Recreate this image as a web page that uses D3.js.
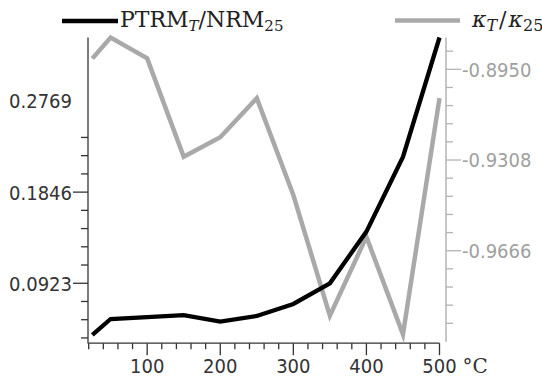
<!DOCTYPE html>
<html>
<head>
<meta charset="utf-8">
<script src="https://cdn.jsdelivr.net/npm/d3@7"></script>
<style>
  body { margin: 0; background: #fff; }
  .tickLabel { font-family: "DejaVu Sans Condensed", "Liberation Sans", sans-serif; font-stretch: condensed; font-size: 20px; }
  .serif { font-family: "DejaVu Serif", "Liberation Serif", serif; }
</style>
</head>
<body>
<div id="chart"></div>
<script>
// temperatures (°C)
const temps = [25, 50, 100, 150, 200, 250, 300, 350, 400, 450, 500];
// PTRM_T / NRM_25 (left axis)
const ptrm = [0.0399, 0.0561, 0.0579, 0.0600, 0.0534, 0.0592, 0.0713, 0.0923, 0.1446, 0.2202, 0.3412];
// kappa_T / kappa_25 (right axis)
const kappa = [-0.8907, -0.8825, -0.8907, -0.9295, -0.9218, -0.9064, -0.9446, -0.9922, -0.9611, -0.9996, -0.9064];

const leftTickStep = 0.01846;
const leftLabels = [0.0923, 0.1846, 0.2769];
const rightTickStep = 0.00716;
const rightLabels = [-0.8950, -0.9308, -0.9666];
const xTicks = d3.range(20, 501, 20);
const xLabels = [100, 200, 300, 400, 500];

const width = 542, height = 378;
const plotTop = 37.5, plotBottom = 341.7;
const black = '#000', grey = '#a9a9a9';

let svg = d3.select('#chart').append('svg')
  .attr('width', width)
  .attr('height', height);

let x = d3.scaleLinear().domain([20, 500]).range([88.7, 439.5]);
let yL = d3.scaleLinear().domain([0.0331, 0.3412]).range([plotBottom, plotTop]);
let yR = d3.scaleLinear().domain([-1.0025, -0.88245]).range([plotBottom, plotTop]);

// tick values built from the label steps
let leftTicks = d3.range(-3, 9).map(k => +(0.0923 + k * leftTickStep).toFixed(5));
let rightTicks = d3.range(-14, 2).map(k => +(-0.8950 + k * rightTickStep).toFixed(5));
let isLabel = (arr, v) => arr.some(a => Math.abs(a - v) < 1e-4);

// left axis
let leftAxis = svg.append('g').attr('transform', 'translate(88,0)');
leftAxis.append('line')
  .attr('y1', plotTop).attr('y2', plotBottom + 1)
  .attr('stroke', '#333').attr('stroke-width', 1.3);
leftAxis.selectAll('.tk').data(leftTicks).enter().append('line')
  .attr('x1', d => isLabel(leftLabels, d) ? -15 : -7).attr('x2', 0)
  .attr('y1', d => yL(d)).attr('y2', d => yL(d))
  .attr('stroke', '#333').attr('stroke-width', 1.3);
leftAxis.selectAll('text').data(leftLabels).enter().append('text')
  .attr('class', 'tickLabel')
  .attr('x', -16).attr('y', d => yL(d)).attr('dy', '0.37em')
  .attr('text-anchor', 'end').attr('fill', '#333')
  .text(d => d.toFixed(4));

// right axis
let rightAxis = svg.append('g').attr('transform', 'translate(446,0)');
rightAxis.append('line')
  .attr('y1', plotTop).attr('y2', plotBottom)
  .attr('stroke', '#b3b3b3').attr('stroke-width', 1.5);
rightAxis.selectAll('.tk').data(rightTicks).enter().append('line')
  .attr('x1', 0).attr('x2', d => isLabel(rightLabels, d) ? 15 : 7)
  .attr('y1', d => yR(d)).attr('y2', d => yR(d))
  .attr('stroke', '#b3b3b3').attr('stroke-width', 1.3);
rightAxis.selectAll('text').data(rightLabels).enter().append('text')
  .attr('class', 'tickLabel')
  .attr('x', 16).attr('y', d => yR(d)).attr('dy', '0.37em')
  .attr('fill', '#a0a0a0')
  .text(d => '-' + Math.abs(d).toFixed(4));

// x axis
let xAxis = svg.append('g').attr('transform', `translate(0,${plotBottom + 1.5})`);
xAxis.append('line')
  .attr('x1', 87.5).attr('x2', x(500))
  .attr('stroke', '#333').attr('stroke-width', 1.3);
xAxis.selectAll('.tk').data(xTicks).enter().append('line')
  .attr('x1', d => x(d)).attr('x2', d => x(d))
  .attr('y1', 0).attr('y2', d => xLabels.includes(d) ? 12 : 6)
  .attr('stroke', '#333').attr('stroke-width', 1.3);
xAxis.selectAll('text').data(xLabels).enter().append('text')
  .attr('class', 'tickLabel')
  .attr('x', d => x(d)).attr('y', 29.5)
  .attr('text-anchor', 'middle').attr('fill', '#333')
  .text(d => d);
xAxis.append('text')
  .attr('class', 'serif')
  .attr('x', x(500) + 23).attr('y', 29.5)
  .attr('font-size', 20).attr('fill', '#333')
  .text('°C');

// series lines
let lineL = d3.line().x((d, i) => x(temps[i])).y(d => yL(d));
let lineR = d3.line().x((d, i) => x(temps[i])).y(d => yR(d));

svg.append('path').datum(kappa)
  .attr('d', lineR).attr('fill', 'none')
  .attr('stroke', grey).attr('stroke-width', 4.5);
svg.append('path').datum(ptrm)
  .attr('d', lineL).attr('fill', 'none')
  .attr('stroke', black).attr('stroke-width', 4.3);

// legend
let legend = svg.append('g').attr('class', 'serif');
legend.append('line')
  .attr('x1', 62).attr('x2', 118).attr('y1', 21).attr('y2', 21)
  .attr('stroke', black).attr('stroke-width', 4.3);
let t1 = legend.append('text').attr('x', 120).attr('y', 27).attr('font-size', 22).attr('fill', '#222');
t1.append('tspan').text('PTRM');
t1.append('tspan').attr('dy', 4).attr('font-size', 15).attr('font-style', 'italic').text('T');
t1.append('tspan').attr('dy', -4).text('/NRM');
t1.append('tspan').attr('dy', 4).attr('font-size', 15).text('25');

legend.append('line')
  .attr('x1', 395).attr('x2', 460).attr('y1', 20.5).attr('y2', 20.5)
  .attr('stroke', grey).attr('stroke-width', 4.5);
let t2 = legend.append('text').attr('x', 472).attr('y', 27).attr('font-size', 22).attr('fill', '#222');
t2.append('tspan').attr('font-style', 'italic').text('κ');
t2.append('tspan').attr('dy', 4).attr('font-size', 16).attr('font-style', 'italic').text('T');
t2.append('tspan').attr('dy', -4).attr('dx', 2).text('/');
t2.append('tspan').attr('dx', 2).attr('font-style', 'italic').text('κ');
t2.append('tspan').attr('dy', 4).attr('font-size', 16).text('25');
</script>
</body>
</html>
